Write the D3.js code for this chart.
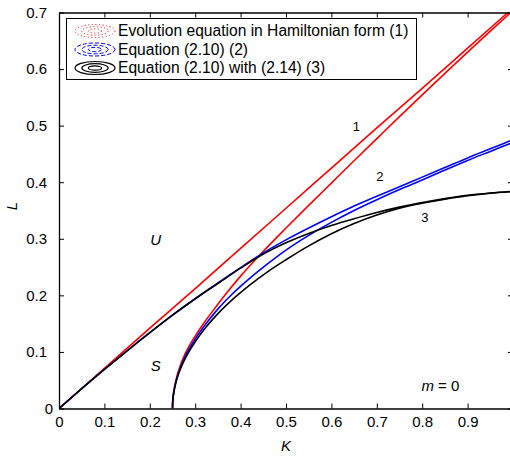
<!DOCTYPE html>
<html>
<head>
<meta charset="utf-8">
<script src="https://cdn.jsdelivr.net/npm/d3@7"></script>
<style>
  body { margin: 0; background: #fff; }
  svg { display: block; font-family: 'Liberation Sans', Arial, Helvetica, sans-serif; }
</style>
</head>
<body>
<div id="chart"></div>
<script>
// contour branches, [K, L]
const redUpper = [
  [0, 0], [0.1, 0.071], [0.2, 0.142], [0.3, 0.212], [0.4, 0.283], [0.5, 0.354],
  [0.6, 0.425], [0.7, 0.496], [0.8, 0.566], [0.9, 0.637], [1.0, 0.708],
];
const redLower = [
  [0.25, 0], [0.2502, 0.008], [0.251, 0.018], [0.2525, 0.029], [0.255, 0.041], [0.26, 0.058],
  [0.266, 0.0735], [0.274, 0.09], [0.285, 0.108], [0.3, 0.128], [0.32, 0.152], [0.347, 0.181],
  [0.37, 0.205], [0.4, 0.234], [0.45, 0.278], [0.5, 0.319], [0.55, 0.359], [0.6, 0.3985],
  [0.65, 0.438], [0.7, 0.477], [0.75, 0.516], [0.8, 0.5545], [0.85, 0.5925], [0.9, 0.63],
  [0.95, 0.667], [1.0, 0.7035],
];
const blueUpper = [
  [0, 0], [0.05, 0.035], [0.1, 0.069], [0.15, 0.102], [0.2, 0.134], [0.25, 0.165],
  [0.3, 0.194], [0.35, 0.222], [0.4, 0.249], [0.45, 0.275], [0.5, 0.298], [0.55, 0.319],
  [0.6, 0.339], [0.65, 0.358], [0.7, 0.375], [0.75, 0.392], [0.8, 0.409], [0.85, 0.426],
  [0.9, 0.443], [0.95, 0.459], [1.0, 0.475],
];
const blueLower = [
  [0.25, 0], [0.2502, 0.0077], [0.251, 0.0175], [0.2525, 0.027], [0.255, 0.038], [0.26, 0.055],
  [0.266, 0.069], [0.274, 0.085], [0.285, 0.103], [0.3, 0.123], [0.32, 0.146], [0.347, 0.173],
  [0.38, 0.201], [0.42, 0.23], [0.46, 0.256], [0.5, 0.28], [0.55, 0.306], [0.6, 0.329],
  [0.65, 0.35], [0.7, 0.369], [0.75, 0.387], [0.8, 0.404], [0.85, 0.4215], [0.9, 0.4385],
  [0.95, 0.4545], [1.0, 0.4705],
];
const blackUpper = [
  [0, 0], [0.05, 0.035], [0.1, 0.069], [0.15, 0.102], [0.2, 0.134], [0.25, 0.165],
  [0.3, 0.194], [0.35, 0.221], [0.4, 0.248], [0.45, 0.273], [0.5, 0.293], [0.55, 0.3095],
  [0.6, 0.3235], [0.65, 0.3355], [0.7, 0.3465], [0.75, 0.356], [0.8, 0.364], [0.85, 0.371],
  [0.9, 0.377], [0.95, 0.381], [1.0, 0.384],
];
const blackLower = [
  [0.25, 0], [0.2502, 0.0075], [0.251, 0.017], [0.2525, 0.026], [0.255, 0.037], [0.26, 0.053],
  [0.266, 0.067], [0.274, 0.082], [0.285, 0.099], [0.3, 0.118], [0.32, 0.14], [0.347, 0.165],
  [0.38, 0.191], [0.42, 0.218], [0.46, 0.242], [0.5, 0.263], [0.55, 0.2875], [0.6, 0.309],
  [0.65, 0.327], [0.7, 0.342], [0.75, 0.354], [0.8, 0.363], [0.85, 0.37], [0.9, 0.376],
  [0.95, 0.3805], [1.0, 0.3835],
];

const series = [
  { name: 'Evolution equation in Hamiltonian form (1)', color: '#ff0000', branches: [redUpper, redLower], icon: 'dot' },
  { name: 'Equation (2.10) (2)', color: '#0000ff', branches: [blueUpper, blueLower], icon: 'dash' },
  { name: 'Equation (2.10) with (2.14) (3)', color: '#000000', branches: [blackUpper, blackLower], icon: 'solid' },
];

const xTicks = [0, 0.1, 0.2, 0.3, 0.4, 0.5, 0.6, 0.7, 0.8, 0.9];
const yTicks = [0, 0.1, 0.2, 0.3, 0.4, 0.5, 0.6, 0.7];

// curve numbers and region labels, in data coordinates
const curveLabels = [
  { text: '1', K: 0.655, L: 0.498 },
  { text: '2', K: 0.707, L: 0.41 },
  { text: '3', K: 0.806, L: 0.338 },
];
const regionLabels = [
  { text: 'U', K: 0.213, L: 0.298 },
  { text: 'S', K: 0.213, L: 0.075 },
];

const width = 510;
const height = 457;

const svg = d3
  .select('#chart')
  .append('svg')
  .attr('width', width)
  .attr('height', height);

const x = d3.scaleLinear().domain([0, 1]).range([59, 513]);
const y = d3.scaleLinear().domain([0, 0.7]).range([408.5, 12.5]);

svg
  .append('defs')
  .append('clipPath')
  .attr('id', 'plot-clip')
  .append('rect')
  .attr('x', x(0))
  .attr('y', y(0.7))
  .attr('width', x(1) - x(0))
  .attr('height', y(0) - y(0.7));

const line = d3
  .line()
  .x((d) => x(d[0]))
  .y((d) => y(d[1]))
  .curve(d3.curveMonotoneX);

const curves = svg.append('g').attr('clip-path', 'url(#plot-clip)');
series.forEach((s) => {
  s.branches.forEach((b) => {
    curves
      .append('path')
      .attr('d', line(b))
      .attr('fill', 'none')
      .attr('stroke', s.color)
      .attr('stroke-width', 1.6);
  });
});

// axes, matlab style: ticks inside on all four sides
const fmt = (d) => (d === 0 ? '0' : d3.format('.1f')(d));

svg
  .append('g')
  .attr('transform', `translate(0,${y(0)})`)
  .call(d3.axisBottom(x).tickValues(xTicks).tickFormat(fmt).tickSizeInner(-5).tickSizeOuter(0).tickPadding(8));

const left = svg
  .append('g')
  .attr('transform', `translate(${x(0)},0)`)
  .call(d3.axisLeft(y).tickValues(yTicks).tickFormat(fmt).tickSizeInner(-5).tickSizeOuter(0).tickPadding(12));

svg
  .append('g')
  .attr('transform', `translate(0,${y(0.7)})`)
  .call(d3.axisTop(x).tickValues(xTicks.concat([1])).tickFormat('').tickSizeInner(-5).tickSizeOuter(0));

svg
  .append('g')
  .attr('transform', `translate(${x(1)},0)`)
  .call(d3.axisRight(y).tickValues(yTicks).tickFormat('').tickSizeInner(-5).tickSizeOuter(0));

svg.selectAll('.domain').attr('stroke', '#000').attr('stroke-width', 1.3);
svg.selectAll('.tick line').attr('stroke', '#000').attr('stroke-width', 1);
svg.selectAll('.tick text').attr('font-size', 15).attr('font-family', null).attr('fill', '#000');
left.selectAll('.tick text').filter((d) => d === 0).attr('dx', 6);

svg
  .append('text')
  .attr('x', 286)
  .attr('y', 451)
  .attr('text-anchor', 'middle')
  .attr('font-size', 15)
  .attr('font-style', 'italic')
  .text('K');

svg
  .append('text')
  .attr('transform', 'translate(17,206) rotate(-90)')
  .attr('text-anchor', 'middle')
  .attr('font-size', 15)
  .attr('font-style', 'italic')
  .text('L');

svg
  .selectAll('.curve-label')
  .data(curveLabels)
  .join('text')
  .attr('class', 'curve-label')
  .attr('x', (d) => x(d.K))
  .attr('y', (d) => y(d.L))
  .attr('dy', '0.35em')
  .attr('text-anchor', 'middle')
  .attr('font-size', 13)
  .text((d) => d.text);

svg
  .selectAll('.region-label')
  .data(regionLabels)
  .join('text')
  .attr('class', 'region-label')
  .attr('x', (d) => x(d.K))
  .attr('y', (d) => y(d.L))
  .attr('dy', '0.35em')
  .attr('text-anchor', 'middle')
  .attr('font-size', 15)
  .attr('font-style', 'italic')
  .text((d) => d.text);

const mLabel = svg
  .append('text')
  .attr('x', x(0.84))
  .attr('y', y(0.04))
  .attr('dy', '0.35em')
  .attr('text-anchor', 'middle')
  .attr('font-size', 15);
mLabel.append('tspan').attr('font-style', 'italic').text('m');
mLabel.append('tspan').text(' = 0');

// legend
const legend = svg.append('g');
legend
  .append('rect')
  .attr('x', 66.5)
  .attr('y', 18.5)
  .attr('width', 350)
  .attr('height', 61)
  .attr('fill', '#fff')
  .attr('stroke', '#000')
  .attr('stroke-width', 1);

const dashFor = { dot: '1,2.5', dash: '4,2', solid: null };
series.forEach((s, i) => {
  const cy = 31 + i * 18.5;
  const g = legend.append('g').attr('transform', `translate(95,${cy})`);
  [1, 0.66, 0.33].forEach((r) => {
    g.append('ellipse')
      .attr('rx', 20 * r)
      .attr('ry', 6.5 * r)
      .attr('fill', 'none')
      .attr('stroke', s.color)
      .attr('stroke-width', s.icon === 'solid' ? 1.2 : 1)
      .attr('stroke-dasharray', dashFor[s.icon]);
  });
  legend
    .append('text')
    .attr('x', 118)
    .attr('y', cy)
    .attr('dy', '0.35em')
    .attr('font-size', 15.6)
    .text(s.name);
});
</script>
</body>
</html>
